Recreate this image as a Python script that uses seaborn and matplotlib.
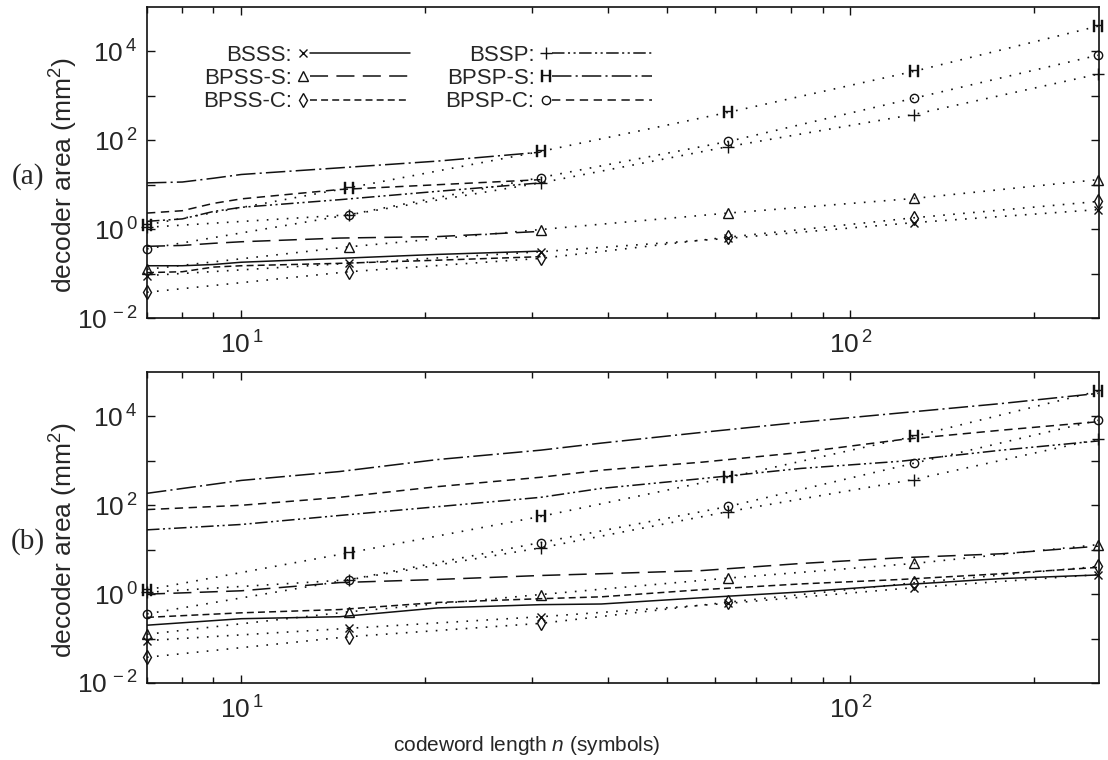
import numpy as np
import matplotlib
matplotlib.use("Agg")
import matplotlib.pyplot as plt
import seaborn as sns
from matplotlib.lines import Line2D
from matplotlib.legend_handler import HandlerLine2D
from matplotlib.ticker import FixedLocator, FixedFormatter, NullLocator, LogLocator, NullFormatter

sns.set_style("ticks")
plt.rcParams['font.family'] = ['Liberation Sans', 'DejaVu Sans']
plt.rcParams['mathtext.fontset'] = 'custom'
plt.rcParams['mathtext.rm'] = 'Liberation Sans'
plt.rcParams['mathtext.it'] = 'Liberation Sans:italic'
plt.rcParams['mathtext.bf'] = 'Liberation Sans:bold'
plt.rcParams['mathtext.sf'] = 'Liberation Sans'
plt.rcParams['lines.scale_dashes'] = False
plt.rcParams['axes.linewidth'] = 1.2
plt.rcParams['axes.edgecolor'] = '#111111'

# ---------------- data ----------------
series_names = ["BSSS", "BPSS-S", "BPSS-C", "BSSP", "BPSP-S", "BPSP-C"]
legend_labels = ["BSSS:", "BPSS-S:", "BPSS-C:", "BSSP:", "BPSP-S:", "BPSP-C:"]

# synthesized designs (markers + dotted lines), same in both panels
n_points = [7, 15, 31, 63, 127, 255]
pts_bsss = [0.09, 0.17, 0.31, 0.62, 1.4, 2.75]
pts_bpss_s = [0.125, 0.40, 0.98, 2.3, 4.9, 13]
pts_bpss_c = [0.038, 0.11, 0.22, 0.66, 1.8, 4.2]
pts_bssp = [1.1, 2.1, 11, 72, 380, 3080]
pts_bpsp_s = [1.25, 8.5, 56, 425, 3550, 37000]
pts_bpsp_c = [0.36, 2.1, 14.5, 94, 880, 8200]

# panel (a) model curves
n_model_a = [7, 8, 9, 10, 14.5, 21, 31]
model_a_bsss = [0.15, 0.15, 0.16, 0.18, 0.22, 0.27, 0.32]
model_a_bpss_s = [0.41, 0.43, 0.48, 0.52, 0.63, 0.68, 0.89]
model_a_bpss_c = [0.105, 0.11, 0.14, 0.15, 0.17, 0.20, 0.24]
model_a_bssp = [1.5, 1.7, 2.5, 3.1, 4.6, 7.1, 11]
model_a_bpsp_s = [11, 11.5, 14, 17, 24, 34, 54]
model_a_bpsp_c = [2.3, 2.6, 3.8, 4.8, 7.8, 10, 13]

# panel (b) model curves
n_model_b = [7, 10, 14.5, 21, 31, 39, 57, 83, 121, 177, 255]
model_b_bsss = [0.20, 0.28, 0.31, 0.49, 0.58, 0.60, 0.83, 1.12, 1.62, 2.24, 2.7]
model_b_bpss_s = [1.0, 1.19, 1.82, 2.14, 2.63, 2.88, 3.39, 4.9, 6.6, 8.1, 12]
model_b_bpss_c = [0.30, 0.38, 0.45, 0.65, 0.79, 0.87, 1.26, 1.70, 2.14, 2.88, 4.0]
model_b_bssp = [28, 37, 59, 93, 151, 240, 398, 676, 980, 1740, 2800]
model_b_bpsp_s = [186, 363, 575, 1070, 1740, 2510, 4370, 7410, 12000, 19500, 33000]
model_b_bpsp_c = [80, 100, 151, 263, 427, 617, 933, 1550, 3000, 4900, 7600]

ytick_values = [1e-2, 1e-1, 1e0, 1e1, 1e2, 1e3, 1e4]
ytick_labels = [r"$10^{\,-2}$", "", r"$10^{\,0}$", "", r"$10^{\,2}$", "", r"$10^{\,4}$"]
xtick_values = [10, 100]
xtick_labels = [r"$10^{\,1}$", r"$10^{\,2}$"]

panel_labels = ["(a)", "(b)"]
y_label = "decoder area (mm$^{2}$)"
x_label = "codeword length $n$ (symbols)"

# ---------------- styles ----------------
INK = '#111111'
markers = ['x', '^', 'd', '+', r'$\mathrm{H}$', 'o']
marker_sizes = [6, 6.5, 7, 8, 9, 6]
marker_faces = ['none', 'none', 'none', 'none', INK, 'none']
marker_edges = [1.0, 1.0, 1.0, 1.0, 0.3, 1.0]
line_styles = ['-', (0, (13, 6)), (0, (5, 3)),
               (0, (9, 2.5, 1.5, 2.5, 1.5, 2.5)),
               (0, (14, 3, 1.5, 3)), (0, (6, 4))]
DOT = (0, (1.2, 6))

pts_all = [pts_bsss, pts_bpss_s, pts_bpss_c, pts_bssp, pts_bpsp_s, pts_bpsp_c]
model_a_all = [model_a_bsss, model_a_bpss_s, model_a_bpss_c, model_a_bssp, model_a_bpsp_s, model_a_bpsp_c]
model_b_all = [model_b_bsss, model_b_bpss_s, model_b_bpss_c, model_b_bssp, model_b_bpsp_s, model_b_bpsp_c]


class MarkerLeftHandler(HandlerLine2D):
    """Legend sample with the marker at the left end of the line."""
    def create_artists(self, legend, orig_handle, xdescent, ydescent,
                       width, height, fontsize, trans):
        y = (height - ydescent) / 2
        x0 = -xdescent
        line = Line2D([x0 + 0.5 * fontsize, x0 + width], [y, y])
        self.update_prop(line, orig_handle, legend)
        line.set_marker('none')
        mk = Line2D([x0 + 0.2 * fontsize], [y])
        self.update_prop(mk, orig_handle, legend)
        mk.set_linestyle('none')
        line.set_transform(trans)
        mk.set_transform(trans)
        return [line, mk]


W, H = 1108, 760
fig = plt.figure(figsize=(W / 100, H / 100), dpi=100)
ax_a = fig.add_axes([147 / W, 1 - 318 / H, 952 / W, 311 / H])
ax_b = fig.add_axes([147 / W, 1 - 683 / H, 952 / W, 311 / H])


def draw_panel(ax, n_model, models):
    ax.set_xscale('log')
    ax.set_yscale('log')
    for vals, ls in zip(models, line_styles):
        sns.lineplot(x=n_model, y=vals, ax=ax, color=INK, linestyle=ls,
                     linewidth=1.1, legend=False, estimator=None)
    for vals, m, ms, fc, mew in zip(pts_all, markers, marker_sizes,
                                     marker_faces, marker_edges):
        sns.lineplot(x=n_points, y=vals, ax=ax, color=INK, linestyle=DOT,
                     linewidth=1.2, marker=m, markersize=ms,
                     markerfacecolor=fc, markeredgecolor=INK,
                     markeredgewidth=mew, clip_on=False, legend=False,
                     estimator=None)
    ax.set_xlim(7, 256)
    ax.set_ylim(1e-2, 1e5)
    ax.yaxis.set_major_locator(FixedLocator(ytick_values))
    ax.yaxis.set_major_formatter(FixedFormatter(ytick_labels))
    ax.yaxis.set_minor_locator(NullLocator())
    ax.xaxis.set_major_locator(FixedLocator(xtick_values))
    ax.xaxis.set_major_formatter(FixedFormatter(xtick_labels))
    ax.xaxis.set_minor_locator(LogLocator(base=10, subs=np.arange(2, 10)))
    ax.xaxis.set_minor_formatter(NullFormatter())
    ax.tick_params(which='both', direction='in', top=True, right=True,
                   width=1.0, color=INK)
    ax.tick_params(which='major', length=6, labelsize=19, pad=7)
    ax.tick_params(axis='x', which='major', pad=10)
    ax.tick_params(which='minor', length=4)
    ax.set_xlabel('')
    ax.set_ylabel(y_label, fontsize=19)
    ax.yaxis.set_label_coords(-0.070, 0.46)
    for sp in ax.spines.values():
        sp.set_visible(True)


draw_panel(ax_a, n_model_a, model_a_all)
draw_panel(ax_b, n_model_b, model_b_all)

ax_b.set_xlabel(x_label, fontsize=15)
ax_b.xaxis.set_label_coords(0.399, -0.165)

fig.text(28 / W, 1 - 177 / H, panel_labels[0], family='Liberation Serif',
         fontsize=21, ha='center', va='center')
fig.text(28 / W, 1 - 542 / H, panel_labels[1], family='Liberation Serif',
         fontsize=21, ha='center', va='center')

handles = [Line2D([], [], color=INK, marker=m, markersize=ms, linestyle=ls,
                  linewidth=1.1, markerfacecolor=fc, markeredgecolor=INK,
                  markeredgewidth=mew)
           for m, ms, ls, fc, mew in zip(markers, marker_sizes, line_styles,
                                         marker_faces, marker_edges)]
ax_a.legend(handles, legend_labels, ncol=2, loc='upper left',
            bbox_to_anchor=(0.059, 0.878), frameon=False, markerfirst=False,
            handlelength=5.0, handletextpad=0.3, columnspacing=1.6,
            labelspacing=0.1, borderpad=0, borderaxespad=0, fontsize=16,
            handler_map={Line2D: MarkerLeftHandler()})

fig.savefig('out.png', dpi=100)
